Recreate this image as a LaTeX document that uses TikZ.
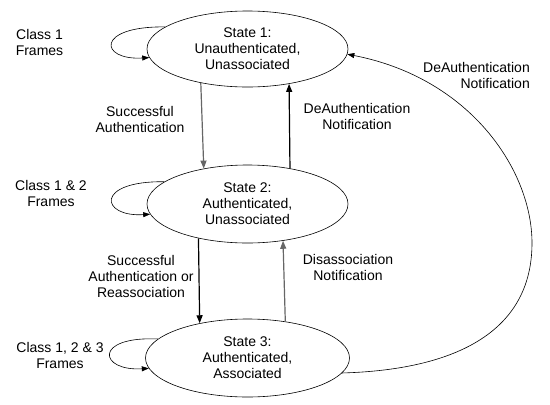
\documentclass[tikz,border=0pt]{standalone}
\usepackage{fontspec}
\setmainfont{Liberation Sans}
\usetikzlibrary{shapes.geometric,arrows.meta}
\begin{document}
\begin{tikzpicture}[x=1pt,y=-1pt,
  every node/.style={font=\fontsize{14}{16}\selectfont, align=center, inner sep=0pt},
  statebox/.style={ellipse, draw, line width=0.6pt, minimum width=201pt, minimum height=76pt},
  loopline/.style={line width=0.6pt, -{Triangle[length=7pt,width=5pt]}},
  mainarrow/.style={line width=1.2pt, -{Triangle[length=8pt,width=6pt]}},
  greyarrow/.style={mainarrow, draw=black!60},
  thinarrow/.style={line width=0.6pt, -{Triangle[length=7pt,width=5pt]}}]
\useasboundingbox (0,0) rectangle (550,405);

\node[statebox] (s1) at (247.5,49) {State 1:\\Unauthenticated,\\Unassociated};
\node[statebox, minimum height=78pt] (s2) at (247.5,204) {State 2:\\Authenticated,\\Unassociated};
\node[statebox, minimum height=78pt, minimum width=204pt] (s3) at (247.5,358) {State 3:\\Authenticated,\\Associated};

% self loops
\draw[loopline] (s1.165.7) .. controls +(-70,-1) and +(-50,3) .. (s1.185.5);
\draw[loopline] (s2.165.8) .. controls +(-70,-1) and +(-50,3) .. (s2.186);
\draw[loopline] (s3.168) .. controls +(-65,-3) and +(-50,3) .. (s3.186);

% vertical transitions
\draw[greyarrow] (s1.216.7) -- (s2.141.5);
\draw[mainarrow] (s2.40.9) -- (s1.320.9);
\draw[mainarrow] (s2.215.5) -- (s3.144.7);
\draw[greyarrow] (s3.44.9) -- (s2.314.8);

% big curve
\coordinate (rc) at (532,243);
\draw[thinarrow] (s3.351.2) .. controls (450,370) and (532,335) .. (rc)
  .. controls (532,170) and (470,78) .. (s1.357.5);

% labels
\node (l1) at (39.5,42.5) {Class 1\\Frames};
\node (l2) at (51,193.5) {Class 1 \& 2\\Frames};
\node (l3) at (60,355) {Class 1, 2 \& 3\\Frames};
\node (t12) at (140,119.5) {Successful\\Authentication};
\node (t21) at (357,116.5) {DeAuthentication\\Notification};
\node[anchor=east, align=right] (t31) at (530,75) {DeAuthentication\\Notification};
\node (t23) at (141,276) {Successful\\Authentication or\\Reassociation};
\node (t32) at (348,267.5) {Disassociation\\Notification};
\end{tikzpicture}
\end{document}
